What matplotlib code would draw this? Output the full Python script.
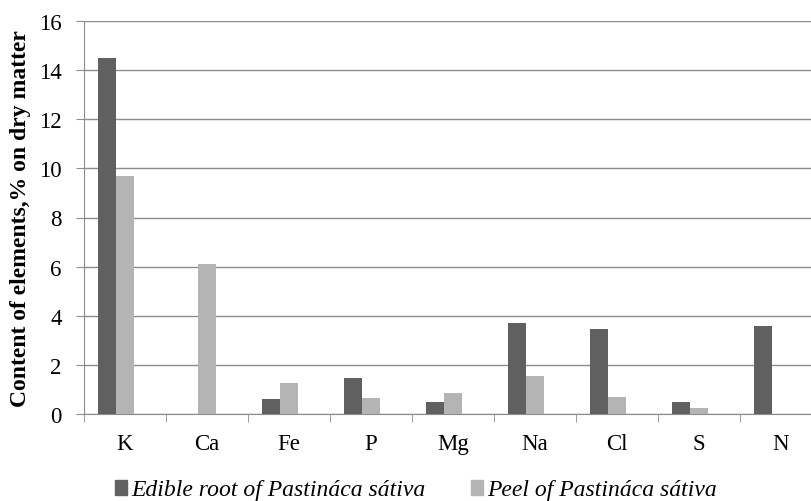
import numpy as np
from matplotlib import pyplot as plt
from matplotlib.patches import Patch

elements = ["K", "Ca", "Fe", "P", "Mg", "Na", "Cl", "S", "N"]
root = [14.5, 0, 0.6, 1.45, 0.5, 3.72, 3.45, 0.5, 3.6]
peel = [9.67, 6.1, 1.25, 0.65, 0.85, 1.55, 0.7, 0.25, 0]
series_names = ["Edible root of Pastináca sátiva", "Peel of Pastináca sátiva"]

dark = "#606060"
light = "#b4b4b4"
axis_gray = "#8c8c8c"

plt.rcParams['font.family'] = ['Liberation Serif', 'DejaVu Serif']

fig = plt.figure(figsize=(8.11, 5.02), dpi=100)
# axes run a little past the right edge, as in the cropped original
ax = fig.add_axes([84 / 811, 87 / 502, 738 / 811, 393 / 502])

x = np.arange(len(elements))
w = 1 / 4.5  # three slots per group (third one empty), gap width 150%
ax.bar(x - w, root, width=w, color=dark, zorder=3)
ax.bar(x, peel, width=w, color=light, zorder=3)

ax.set_xlim(-0.5, len(elements) - 0.5)
ax.set_ylim(0, 16)
ax.set_yticks(range(0, 17, 2))
ax.yaxis.grid(True, color=axis_gray, linewidth=1, zorder=0)

ax.set_xticks(x)
ax.set_xticklabels(elements)
ax.set_xticks(np.arange(-0.5, len(elements) + 0.5, 1), minor=True)
ax.tick_params(axis='x', which='major', length=0, pad=14, labelsize=16.5)
ax.tick_params(axis='x', which='minor', length=6, color=axis_gray)
ax.tick_params(axis='y', length=6, color=axis_gray, labelsize=16.5, pad=10)

for side in ["top", "right"]:
    ax.spines[side].set_visible(False)
for side in ["left", "bottom"]:
    ax.spines[side].set_color(axis_gray)

ax.set_ylabel("Content of elements,% on dry matter", fontsize=17, fontweight='bold', labelpad=6)

handles = [Patch(color=dark), Patch(color=light)]
fig.legend(handles, series_names, loc='center', bbox_to_anchor=(0.513, 0.022), ncol=2,
           frameon=False, prop={'style': 'italic', 'size': 17},
           handlelength=0.5, handleheight=0.6, handletextpad=0.2, columnspacing=1.9)

fig.savefig("out.png", dpi=100)
